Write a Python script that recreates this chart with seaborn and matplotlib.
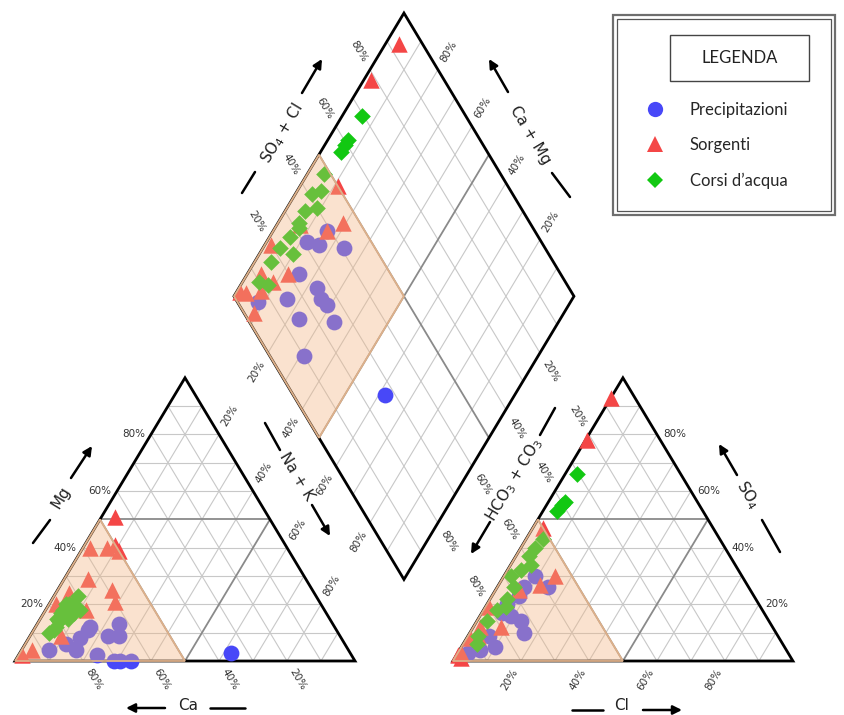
import numpy as np
import pandas as pd
import matplotlib.pyplot as plt
import seaborn as sns
from matplotlib.lines import Line2D
from matplotlib.patches import Polygon, Rectangle

sns.set_theme(style="white")
plt.rcParams['font.family'] = ['DejaVu Sans']

# Chemistry of the samples, % of meq (Na+K = 100-Ca-Mg, HCO3+CO3 = 100-Cl-SO4)
prec_ca = [35, 69, 66, 88, 72, 77, 82, 63, 65, 75, 80, 68, 73, 71]
prec_mg = [3, 0, 0, 4, 12, 8, 6, 13, 9, 2, 4, 9, 11, 0]
prec_cl = [13, 6, 9, 3, 8, 6, 8, 15, 6, 16, 10, 6, 9, 6]
prec_so4 = [14, 4, 16, 3, 26, 17, 23, 26, 19, 10, 5, 9, 30, 20]

sorg_ca = [45, 58, 60, 59, 53, 50, 64, 72, 78, 82, 93, 97, 50, 70]
sorg_mg = [51, 40, 21, 25, 40, 41, 29, 24, 20, 9, 4, 2, 39, 18]
sorg_cl = [0, 0.5, 15, 12, 7, 2, 1, 3, 1, 2, 1, 0.5, 3, 8]
sorg_so4 = [93, 78, 30, 27, 25, 12, 8, 9, 19, 1, 3, 2, 47, 12]

corsi_ca = [76, 78, 74, 80, 75, 78, 80, 73, 82, 77, 72, 80, 85, 77, 70, 83, 74]
corsi_mg = [18, 16, 20, 14, 20, 17, 14, 20, 12, 18, 18, 15, 10, 15, 23, 11, 17]
corsi_cl = [3.5, 4.5, 4, 5, 5, 4, 4, 5, 5, 4, 6, 3, 4, 3, 4, 2, 6]
corsi_so4 = [66, 55, 53, 56, 43, 37, 32, 26, 22, 18, 19, 14, 6, 9, 40, 30, 34]

groups = ['Precipitazioni', 'Sorgenti', 'Corsi d\u2019acqua']
colors = {'Precipitazioni': '#4848f8', 'Sorgenti': '#f44646', 'Corsi d\u2019acqua': '#12c812'}
markers = {'Precipitazioni': 'o', 'Sorgenti': '^', 'Corsi d\u2019acqua': 'D'}
sizes = {'Precipitazioni': 130, 'Sorgenti': 140, 'Corsi d\u2019acqua': 72}
ticks = [20, 40, 60, 80]

W, HPX = 845, 715
H = np.sqrt(3) / 2
GAP = 0.288
BX, BY = 1 + GAP / 2, GAP * H
OX = 1 + GAP


def cat_xy(ca, mg):
    nak = 1 - ca - mg
    return nak + mg / 2, mg * H


def an_xy(cl, so4):
    return OX + cl + so4 / 2, so4 * H


def dia_xy(cm, sc):
    return BX + 0.5 * (sc - cm), BY + H * (cm + sc)


frames = []
for g, ca, mg, cl, so4 in [(groups[0], prec_ca, prec_mg, prec_cl, prec_so4),
                           (groups[1], sorg_ca, sorg_mg, sorg_cl, sorg_so4),
                           (groups[2], corsi_ca, corsi_mg, corsi_cl, corsi_so4)]:
    d = pd.DataFrame({'Ca': ca, 'Mg': mg, 'Cl': cl, 'SO4': so4}) / 100
    d['group'] = g
    frames.append(d)
df = pd.concat(frames, ignore_index=True)

cx, cy = cat_xy(df.Ca, df.Mg)
axx, axy = an_xy(df.Cl, df.SO4)
dx, dy = dia_xy(df.Ca + df.Mg, df.Cl + df.SO4)
pts = pd.concat([pd.DataFrame({'x': cx, 'y': cy, 'group': df.group}),
                 pd.DataFrame({'x': axx, 'y': axy, 'group': df.group}),
                 pd.DataFrame({'x': dx, 'y': dy, 'group': df.group})], ignore_index=True)

fig = plt.figure(figsize=(W / 100, HPX / 100), dpi=100)
ax = fig.add_axes([0, 0, 1, 1])
ax.set_xlim(-15 / 340, 830 / 340)
ax.set_ylim(-54 / 327, 661 / 327)
ax.axis('off')


def seg(p, q, **kw):
    ax.plot([p[0], q[0]], [p[1], q[1]], solid_capstyle='butt', **kw)


# triangle grids
for ox in (0, OX):
    for f in np.arange(1, 10) / 10:
        col, lw, z = ('#8a8a8a', 1.3, 1.5) if f == 0.5 else ('#c8c8c8', 0.8, 1)
        seg((ox + f / 2, f * H), (ox + 1 - f / 2, f * H), color=col, lw=lw, zorder=z)
        seg((ox + 1 - f, 0), (ox + (1 - f) / 2, (1 - f) * H), color=col, lw=lw, zorder=z)
        seg((ox + f, 0), (ox + f + (1 - f) / 2, (1 - f) * H), color=col, lw=lw, zorder=z)
    ax.add_patch(Polygon([(ox, 0), (ox + 1, 0), (ox + 0.5, H)], closed=True,
                         fill=False, ec='black', lw=2, zorder=2))

# diamond grid
for f in np.arange(1, 10) / 10:
    col, lw, z = ('#8a8a8a', 1.3, 1.5) if f == 0.5 else ('#c8c8c8', 0.8, 1)
    seg(dia_xy(f, 0), dia_xy(f, 1), color=col, lw=lw, zorder=z)
    seg(dia_xy(0, f), dia_xy(1, f), color=col, lw=lw, zorder=z)
ax.add_patch(Polygon([dia_xy(0, 0), dia_xy(1, 0), dia_xy(1, 1), dia_xy(0, 1)], closed=True,
                     fill=False, ec='black', lw=2, zorder=2))

# samples
for g in groups:
    sub = pts[pts.group == g]
    sns.scatterplot(data=sub, x='x', y='y', marker=markers[g], s=sizes[g], color=colors[g],
                    linewidth=0, ax=ax, legend=False, zorder=3)

# shaded fields drawn over the samples
shades = [[(0, 0), (0.5, 0), (0.25, H / 2)],
          [(OX, 0), (OX + 0.5, 0), (OX + 0.25, H / 2)],
          [dia_xy(1, 0), dia_xy(1, 0.5), dia_xy(0.5, 0.5), dia_xy(0.5, 0)]]
for poly in shades:
    ax.add_patch(Polygon(poly, closed=True, fc='#f2b583', ec='none', alpha=0.38, zorder=4))
    ax.add_patch(Polygon(poly, closed=True, fill=False, ec='#ddb08a', lw=1.3, zorder=4))

# tick labels
d = 0.065
tk = dict(fontsize=7.5, color='#333333', ha='center', va='center', rotation_mode='anchor', zorder=5)
for t in ticks:
    f = t / 100
    lab = f'{t}%'
    # cations
    ax.text(f / 2 - 0.018, f * H, lab, fontsize=7.5, color='#333333', ha='right', va='center')
    ax.text(1 - f + 0.5 * d, -H * d, lab, rotation=-59, **tk)
    ax.text(f + (1 - f) / 2 + 0.5 * d, (1 - f) * H + H * d, lab, rotation=59, **tk)
    # anions
    ax.text(OX + (1 - f) / 2 - 0.5 * d, (1 - f) * H + H * d, lab, rotation=-59, **tk)
    ax.text(OX + f - 0.5 * d, -H * d, lab, rotation=59, **tk)
    ax.text(OX + 1 - f / 2 + 0.018, f * H, lab, fontsize=7.5, color='#333333', ha='left', va='center')
    # diamond
    x, y = dia_xy(1, f)
    ax.text(x - 0.5 * d, y + H * d, lab, rotation=-59, **tk)
    x, y = dia_xy(f, 1)
    ax.text(x + 0.5 * d, y + H * d, lab, rotation=59, **tk)
    x, y = dia_xy(1 - f, 0)
    ax.text(x - 0.5 * d, y - H * d, lab, rotation=59, **tk)
    x, y = dia_xy(0, 1 - f)
    ax.text(x + 0.5 * d, y - H * d, lab, rotation=-59, **tk)


# axis titles with dashes and arrows (figure pixel layout)
def fx(x, y):
    return x / W, 1 - y / HPX


def dash(p, q):
    (x0, y0), (x1, y1) = fx(*p), fx(*q)
    fig.add_artist(Line2D([x0, x1], [y0, y1], transform=fig.transFigure, color='black', lw=1.8))


def arrow(p, q):
    ax.annotate('', xy=fx(*q), xytext=fx(*p), xycoords='figure fraction',
                arrowprops=dict(arrowstyle='-|>', color='black', lw=1.8, mutation_scale=13,
                                shrinkA=0, shrinkB=0))


def title(p, s, rot):
    fig.text(*fx(*p), s, rotation=rot, ha='center', va='center', rotation_mode='anchor',
             fontsize=11, color='#222222')


dash((33, 543), (50, 520)); title((61, 497), 'Mg', 59); arrow((71, 478), (92, 446))
arrow((165, 708), (126, 708)); title((188, 706), 'Ca', 0); dash((210, 708), (245, 708))
dash((265, 423), (280, 450)); title((297, 477), 'Na + K', -59); arrow((312, 505), (330, 536))
dash((242, 193), (255, 172)); title((282, 133), 'SO$_4$ + Cl', 59); arrow((302, 93), (322, 59))
arrow((508, 92), (489, 59)); title((530, 135), 'Ca + Mg', -59); dash((552, 173), (570, 197))
dash((555, 408), (540, 435)); title((514, 480), 'HCO$_3$ + CO$_3$', 59); arrow((490, 522), (471, 554))
arrow((737, 475), (719, 444)); title((748, 495), 'SO$_4$', -59); dash((762, 520), (780, 552))
dash((572, 710), (603, 710)); title((622, 706), 'Cl', 0); arrow((643, 710), (682, 710))

# legend
x0, y0 = fx(613, 215)
fig.add_artist(Rectangle((x0, y0), 222 / W, 200 / HPX, transform=fig.transFigure,
                         fill=False, ec='#6e6e6e', lw=1.6))
x0, y0 = fx(617, 211)
fig.add_artist(Rectangle((x0, y0), 214 / W, 192 / HPX, transform=fig.transFigure,
                         fill=False, ec='#555555', lw=0.9))
x0, y0 = fx(670, 81)
fig.add_artist(Rectangle((x0, y0), 139 / W, 46 / HPX, transform=fig.transFigure,
                         fill=False, ec='#444444', lw=1.0))
fig.text(*fx(740, 58), 'LEGENDA', ha='center', va='center', fontsize=12, family='Lato',
         color='#222222')
handles = [Line2D([], [], marker=markers[g], linestyle='none', markerfacecolor=colors[g],
                  markeredgewidth=0, markersize=11 if g != groups[2] else 8.5) for g in groups]
ax.legend(handles, groups, loc='upper left', bbox_to_anchor=fx(645, 102),
          bbox_transform=fig.transFigure, frameon=False, handlelength=1.2,
          handletextpad=1.5, labelspacing=1.15, borderpad=0, borderaxespad=0,
          prop={'family': 'Lato', 'size': 12})

fig.savefig('out.png', dpi=100)
